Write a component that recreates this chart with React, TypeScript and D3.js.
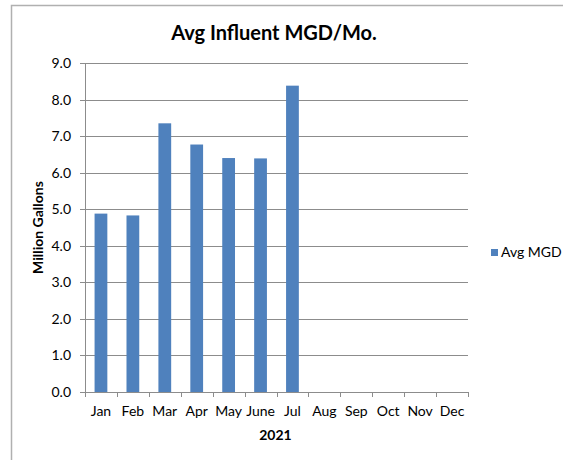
import React, { useEffect, useRef } from 'react';
import * as d3 from 'd3';

const months = ['Jan', 'Feb', 'Mar', 'Apr', 'May', 'June', 'Jul', 'Aug', 'Sep', 'Oct', 'Nov', 'Dec'];
const avgMgd: (number | null)[] = [4.88, 4.83, 7.35, 6.77, 6.4, 6.39, 8.38, null, null, null, null, null];
const yTicks = [0, 1, 2, 3, 4, 5, 6, 7, 8, 9];

const App: React.FC = () => {
  const svgRef = useRef<SVGSVGElement>(null);

  useEffect(() => {
    if (!svgRef.current) return;
    d3.select(svgRef.current).selectAll('*').remove();

    const svgWidth = 563;
    const svgHeight = 460;
    const margin = { top: 63, right: 95, bottom: 68, left: 85 };
    const width = svgWidth - margin.left - margin.right;
    const height = svgHeight - margin.top - margin.bottom;
    const font = 'Lato, Carlito, "Open Sans", sans-serif';
    const barColor = '#4f81bd';
    const gridColor = '#8c8c8c';

    const root = d3.select(svgRef.current)
      .attr('width', svgWidth)
      .attr('height', svgHeight)
      .style('font-family', font);

    // Chart frame
    root.append('rect')
      .attr('x', 11.5)
      .attr('y', 5.5)
      .attr('width', 600)
      .attr('height', 500)
      .attr('fill', '#fff')
      .attr('stroke', '#b0b0b0')
      .attr('stroke-width', 1.5);

    // Title
    root.append('text')
      .attr('x', 274)
      .attr('y', 40)
      .attr('text-anchor', 'middle')
      .style('font-size', '20px')
      .style('font-weight', 'bold')
      .text('Avg Influent MGD/Mo.');

    const svg = root.append('g')
      .attr('transform', `translate(${margin.left},${margin.top})`);

    const xScale = d3.scaleBand<string>()
      .domain(months)
      .range([0, width])
      .paddingInner(0.6)
      .paddingOuter(0.3);

    const yScale = d3.scaleLinear()
      .domain([0, 9])
      .range([height, 0]);

    // Grid lines
    svg.append('g')
      .selectAll('line')
      .data(yTicks)
      .enter()
      .append('line')
      .attr('x1', -5)
      .attr('x2', width)
      .attr('y1', d => Math.round(yScale(d)) + 0.5)
      .attr('y2', d => Math.round(yScale(d)) + 0.5)
      .attr('stroke', gridColor)
      .attr('stroke-width', 1);

    // Y axis line
    svg.append('line')
      .attr('x1', 0.5)
      .attr('x2', 0.5)
      .attr('y1', 0)
      .attr('y2', height)
      .attr('stroke', gridColor);

    // Y tick labels
    svg.append('g')
      .selectAll('text')
      .data(yTicks)
      .enter()
      .append('text')
      .attr('x', -14)
      .attr('y', d => yScale(d) + 5)
      .attr('text-anchor', 'end')
      .style('font-size', '14px')
      .text(d => d.toFixed(1));

    // X ticks at band boundaries
    const step = xScale.step();
    const boundaries = d3.range(months.length + 1).map(i => i * step);
    svg.append('g')
      .selectAll('line')
      .data(boundaries)
      .enter()
      .append('line')
      .attr('x1', d => Math.round(d) + 0.5)
      .attr('x2', d => Math.round(d) + 0.5)
      .attr('y1', height)
      .attr('y2', height + 5)
      .attr('stroke', gridColor);

    // X labels
    svg.append('g')
      .selectAll('text')
      .data(months)
      .enter()
      .append('text')
      .attr('x', d => (xScale(d) || 0) + xScale.bandwidth() / 2)
      .attr('y', height + 24)
      .attr('text-anchor', 'middle')
      .style('font-size', '14px')
      .text(d => d);

    // Bars
    const barData = months
      .map((m, i) => ({ month: m, value: avgMgd[i] }))
      .filter(d => d.value !== null) as { month: string; value: number }[];

    svg.append('g')
      .selectAll('rect')
      .data(barData)
      .enter()
      .append('rect')
      .attr('x', d => xScale(d.month) || 0)
      .attr('y', d => yScale(d.value))
      .attr('width', xScale.bandwidth())
      .attr('height', d => height - yScale(d.value))
      .attr('fill', barColor);

    // Axis titles
    svg.append('text')
      .attr('x', width / 2 - 1)
      .attr('y', height + 48)
      .attr('text-anchor', 'middle')
      .style('font-size', '14px')
      .style('font-weight', 'bold')
      .text('2021');

    svg.append('text')
      .attr('transform', 'rotate(-90)')
      .attr('x', -height / 2)
      .attr('y', -42)
      .attr('text-anchor', 'middle')
      .style('font-size', '14px')
      .style('font-weight', 'bold')
      .text('Million Gallons');

    // Legend
    const legend = root.append('g')
      .attr('transform', 'translate(491, 249)');
    legend.append('rect')
      .attr('width', 7)
      .attr('height', 7)
      .attr('fill', barColor);
    legend.append('text')
      .attr('x', 10)
      .attr('y', 8)
      .style('font-size', '14px')
      .text('Avg MGD');
  }, []);

  return (
    <svg ref={svgRef} style={{ position: 'absolute', left: 0, top: 0 }}></svg>
  );
};

export default App;
